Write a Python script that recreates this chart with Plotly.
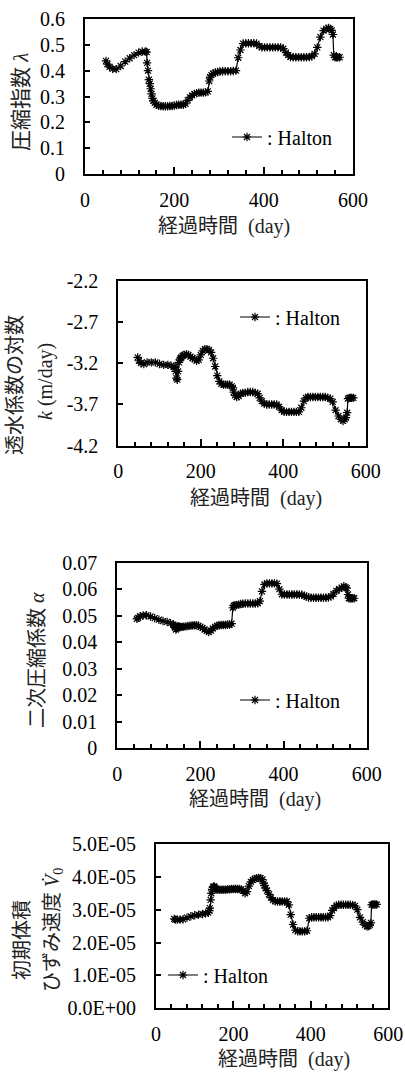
import plotly.graph_objects as go

# ---------------- data ----------------
DAYS = [47, 50, 55, 62, 70, 80, 90, 100, 110, 120, 128, 135, 138, 139, 141, 143, 145, 147, 149, 151,
        153, 156, 160, 165, 170, 175, 180, 185, 190, 195, 200, 205, 210, 215, 220, 225, 230, 235, 240, 245,
        250, 255, 260, 265, 270, 275, 278, 280, 283, 287, 292, 297, 302, 308, 314, 320, 326, 332, 338, 343,
        348, 354, 360, 366, 372, 378, 384, 390, 396, 402, 408, 414, 420, 426, 432, 438, 444, 450, 455, 460,
        466, 472, 478, 484, 490, 496, 502, 508, 514, 520, 527, 534, 540, 545, 549, 552, 555, 557, 560, 563,
        566, 570]

LAMBDA = [0.438, 0.425, 0.415, 0.407, 0.406, 0.418, 0.435, 0.448, 0.460, 0.470, 0.474, 0.474, 0.472, 0.430, 0.400, 0.365, 0.350, 0.330, 0.310, 0.293,
          0.283, 0.275, 0.268, 0.264, 0.263, 0.262, 0.262, 0.262, 0.263, 0.263, 0.265, 0.267, 0.268, 0.268, 0.268, 0.272, 0.285, 0.297, 0.304, 0.310,
          0.313, 0.315, 0.315, 0.315, 0.316, 0.320, 0.360, 0.375, 0.383, 0.389, 0.393, 0.395, 0.397, 0.398, 0.398, 0.398, 0.398, 0.399, 0.400, 0.450,
          0.480, 0.505, 0.506, 0.506, 0.506, 0.506, 0.505, 0.495, 0.490, 0.490, 0.490, 0.490, 0.490, 0.490, 0.490, 0.490, 0.485, 0.470, 0.460, 0.453,
          0.452, 0.452, 0.452, 0.452, 0.452, 0.452, 0.453, 0.456, 0.465, 0.490, 0.530, 0.555, 0.562, 0.565, 0.562, 0.556, 0.540, 0.460, 0.452, 0.452,
          0.452, 0.452]

LOG_K = [-3.13, -3.17, -3.20, -3.21, -3.19, -3.19, -3.19, -3.21, -3.22, -3.22, -3.23, -3.24, -3.25, -3.30, -3.38, -3.40, -3.30, -3.19, -3.16, -3.14,
         -3.13, -3.11, -3.10, -3.09, -3.10, -3.12, -3.14, -3.15, -3.17, -3.16, -3.10, -3.05, -3.03, -3.03, -3.04, -3.07, -3.14, -3.24, -3.35, -3.42,
         -3.45, -3.46, -3.46, -3.46, -3.46, -3.48, -3.50, -3.55, -3.59, -3.61, -3.60, -3.57, -3.56, -3.56, -3.55, -3.55, -3.55, -3.56, -3.57, -3.62,
         -3.66, -3.69, -3.70, -3.70, -3.70, -3.70, -3.70, -3.73, -3.77, -3.79, -3.79, -3.79, -3.79, -3.79, -3.79, -3.79, -3.74, -3.66, -3.62, -3.61,
         -3.61, -3.61, -3.61, -3.61, -3.61, -3.61, -3.61, -3.62, -3.63, -3.67, -3.77, -3.84, -3.88, -3.90, -3.88, -3.86, -3.80, -3.63, -3.62, -3.62,
         -3.62, -3.62]

ALPHA = [0.0488, 0.0492, 0.0498, 0.0501, 0.0502, 0.0497, 0.0491, 0.0485, 0.0480, 0.0477, 0.0472, 0.0466, 0.0462, 0.0455, 0.0448, 0.0452, 0.0458, 0.0460, 0.0459, 0.0458,
         0.0457, 0.0458, 0.0459, 0.0460, 0.0461, 0.0462, 0.0463, 0.0464, 0.0464, 0.0462, 0.0458, 0.0454, 0.0448, 0.0443, 0.0438, 0.0444, 0.0452, 0.0458, 0.0462, 0.0464,
         0.0465, 0.0465, 0.0465, 0.0466, 0.0467, 0.0470, 0.0530, 0.0538, 0.0540, 0.0540, 0.0542, 0.0544, 0.0545, 0.0546, 0.0546, 0.0546, 0.0546, 0.0546, 0.0547, 0.0555,
         0.0592, 0.0618, 0.0622, 0.0622, 0.0622, 0.0622, 0.0621, 0.0600, 0.0581, 0.0580, 0.0580, 0.0580, 0.0580, 0.0580, 0.0580, 0.0580, 0.0579, 0.0576, 0.0572, 0.0569,
         0.0568, 0.0568, 0.0568, 0.0568, 0.0568, 0.0568, 0.0568, 0.0569, 0.0573, 0.0582, 0.0594, 0.0601, 0.0606, 0.0611, 0.0607, 0.0604, 0.0580, 0.0566, 0.0566, 0.0566,
         0.0566, 0.0566]

V0 = [2.72e-5, 2.70e-5, 2.70e-5, 2.70e-5, 2.71e-5, 2.76e-5, 2.80e-5, 2.83e-5, 2.85e-5, 2.87e-5, 2.89e-5, 2.91e-5, 2.97e-5, 3.05e-5, 3.30e-5, 3.50e-5, 3.62e-5, 3.68e-5, 3.71e-5, 3.70e-5,
      3.66e-5, 3.62e-5, 3.61e-5, 3.61e-5, 3.61e-5, 3.61e-5, 3.61e-5, 3.62e-5, 3.62e-5, 3.63e-5, 3.63e-5, 3.63e-5, 3.63e-5, 3.63e-5, 3.62e-5, 3.58e-5, 3.50e-5, 3.55e-5, 3.72e-5, 3.85e-5,
      3.91e-5, 3.94e-5, 3.96e-5, 3.97e-5, 3.96e-5, 3.92e-5, 3.80e-5, 3.74e-5, 3.66e-5, 3.58e-5, 3.47e-5, 3.37e-5, 3.29e-5, 3.26e-5, 3.25e-5, 3.25e-5, 3.25e-5, 3.25e-5, 3.25e-5, 3.15e-5,
      2.85e-5, 2.55e-5, 2.38e-5, 2.34e-5, 2.34e-5, 2.34e-5, 2.34e-5, 2.36e-5, 2.74e-5, 2.77e-5, 2.77e-5, 2.77e-5, 2.77e-5, 2.77e-5, 2.77e-5, 2.77e-5, 2.77e-5, 2.82e-5, 2.98e-5, 3.05e-5,
      3.13e-5, 3.15e-5, 3.15e-5, 3.15e-5, 3.15e-5, 3.15e-5, 3.15e-5, 3.14e-5, 3.12e-5, 3.00e-5, 2.77e-5, 2.62e-5, 2.53e-5, 2.49e-5, 2.50e-5, 2.54e-5, 2.60e-5, 3.15e-5, 3.16e-5, 3.16e-5,
      3.16e-5, 3.16e-5]

SERIES_NAME = ": Halton"

X_TICKS = [0, 200, 400, 600]
X_LABELS = ["0", "200", "400", "600"]

Y1_TICKS = [0, 0.1, 0.2, 0.3, 0.4, 0.5, 0.6]
Y1_LABELS = ["0", "0.1", "0.2", "0.3", "0.4", "0.5", "0.6"]
Y2_TICKS = [-4.2, -3.7, -3.2, -2.7, -2.2]
Y2_LABELS = ["-4.2", "-3.7", "-3.2", "-2.7", "-2.2"]
Y3_TICKS = [0, 0.01, 0.02, 0.03, 0.04, 0.05, 0.06, 0.07]
Y3_LABELS = ["0", "0.01", "0.02", "0.03", "0.04", "0.05", "0.06", "0.07"]
Y4_TICKS = [0, 1e-5, 2e-5, 3e-5, 4e-5, 5e-5]
Y4_LABELS = ["0.0E+00", "1.0E-05", "2.0E-05", "3.0E-05", "4.0E-05", "5.0E-05"]

X_TITLE = "経過時間  (day)"
Y_TITLES = [
    ["圧縮指数 <i>λ</i>"],
    ["透水係数の対数", "<i>k</i> (m/day)"],
    ["二次圧縮係数 <i>α</i>"],
    ["初期体積", "ひずみ速度 <i>V̇</i><sub>0</sub>"],
]

# ---------------- layout helpers (pixels -> paper) ----------------
W, H = 405, 1075
FONT = "'Liberation Serif', 'Times New Roman', 'Noto Sans CJK JP', serif"


def fx(p):
    return p / W


def fy(p):
    return 1 - p / H


# panel frames in pixels: left, right, top, bottom
PANELS = [
    (85, 353, 19, 174),
    (118.3, 365.7, 280.7, 445.7),
    (117.3, 366.7, 562.7, 748.3),
    (156, 388.3, 844, 1008.3),
]
Y_RANGES = [[0, 0.6], [-4.2, -2.2], [0, 0.07], [0, 5e-5]]
Y_TICKSETS = [(Y1_TICKS, Y1_LABELS), (Y2_TICKS, Y2_LABELS), (Y3_TICKS, Y3_LABELS), (Y4_TICKS, Y4_LABELS)]
SERIES = [LAMBDA, LOG_K, ALPHA, V0]
XTITLE_POS = [(224, 226), (256, 499), (255, 799), (284, 1059)]
YTITLE_POS = [[(21, 102)], [(15, 385), (45, 382)], [(37, 660)], [(22, 940), (53, 930)]]
YTITLE_SIZE = [21, 20, 20, 20]
LEGEND_POS = [(227, 137), (235, 317), (235, 700), (163, 975)]
XSTANDOFF = [7, 6, 7, 7]

fig = go.Figure()
annotations = []
layout = dict(
    width=W, height=H, margin=dict(l=0, r=0, t=0, b=0, pad=0, autoexpand=False),
    paper_bgcolor="white", plot_bgcolor="white",
    font=dict(family=FONT, size=20, color="black"),
)

for i, (l, r, t, b) in enumerate(PANELS):
    n = "" if i == 0 else str(i + 1)
    leg = "legend" if i == 0 else f"legend{i + 1}"
    fig.add_trace(go.Scatter(
        x=DAYS, y=SERIES[i], mode="lines+markers", name=SERIES_NAME,
        xaxis="x" + n, yaxis="y" + n, legend=leg,
        line=dict(color="black", width=1.2),
        marker=dict(symbol="asterisk-open", size=7, color="black", line=dict(color="black", width=1.2)),
        cliponaxis=False,
    ))
    layout["xaxis" + n] = dict(
        domain=[fx(l), fx(r)], anchor="y" + n, range=[0, 600],
        tickmode="array", tickvals=X_TICKS, ticktext=X_LABELS,
        ticks="inside", ticklen=7, tickwidth=1.6, tickcolor="black",
        minor=dict(tickmode="linear", tick0=0, dtick=40, ticks="inside", ticklen=4, tickwidth=1.6, tickcolor="black"),
        showline=True, linewidth=2, linecolor="black", mirror=True,
        showgrid=False, zeroline=False, ticklabelstandoff=XSTANDOFF[i], automargin=False,
        tickfont=dict(family=FONT, size=20, color="black"),
    )
    tv, tt = Y_TICKSETS[i]
    layout["yaxis" + n] = dict(
        domain=[fy(b), fy(t)], anchor="x" + n, range=Y_RANGES[i],
        tickmode="array", tickvals=tv, ticktext=tt,
        ticks="inside", ticklen=5, tickwidth=1.6, tickcolor="black",
        showline=True, linewidth=2, linecolor="black", mirror=True,
        showgrid=False, zeroline=False, ticklabelstandoff=14, automargin=False,
        tickfont=dict(family=FONT, size=20, color="black"),
    )
    lx, ly = LEGEND_POS[i]
    layout[leg] = dict(
        x=fx(lx), y=fy(ly), xanchor="left", yanchor="middle",
        bgcolor="rgba(0,0,0,0)", borderwidth=0, itemwidth=30,
        font=dict(family=FONT, size=20, color="black"),
    )
    xx, xy = XTITLE_POS[i]
    annotations.append(dict(
        text=X_TITLE, x=fx(xx), y=fy(xy), xref="paper", yref="paper",
        showarrow=False, xanchor="center", yanchor="middle",
        font=dict(family=FONT, size=20, color="#222"),
    ))
    for txt, (ax, ay) in zip(Y_TITLES[i], YTITLE_POS[i]):
        annotations.append(dict(
            text=txt, x=fx(ax), y=fy(ay), xref="paper", yref="paper",
            showarrow=False, xanchor="center", yanchor="middle", textangle=-90,
            font=dict(family=FONT, size=YTITLE_SIZE[i], color="#222"),
        ))

layout["annotations"] = annotations
layout["showlegend"] = True
fig.update_layout(**layout)
fig.write_html("out.html")
